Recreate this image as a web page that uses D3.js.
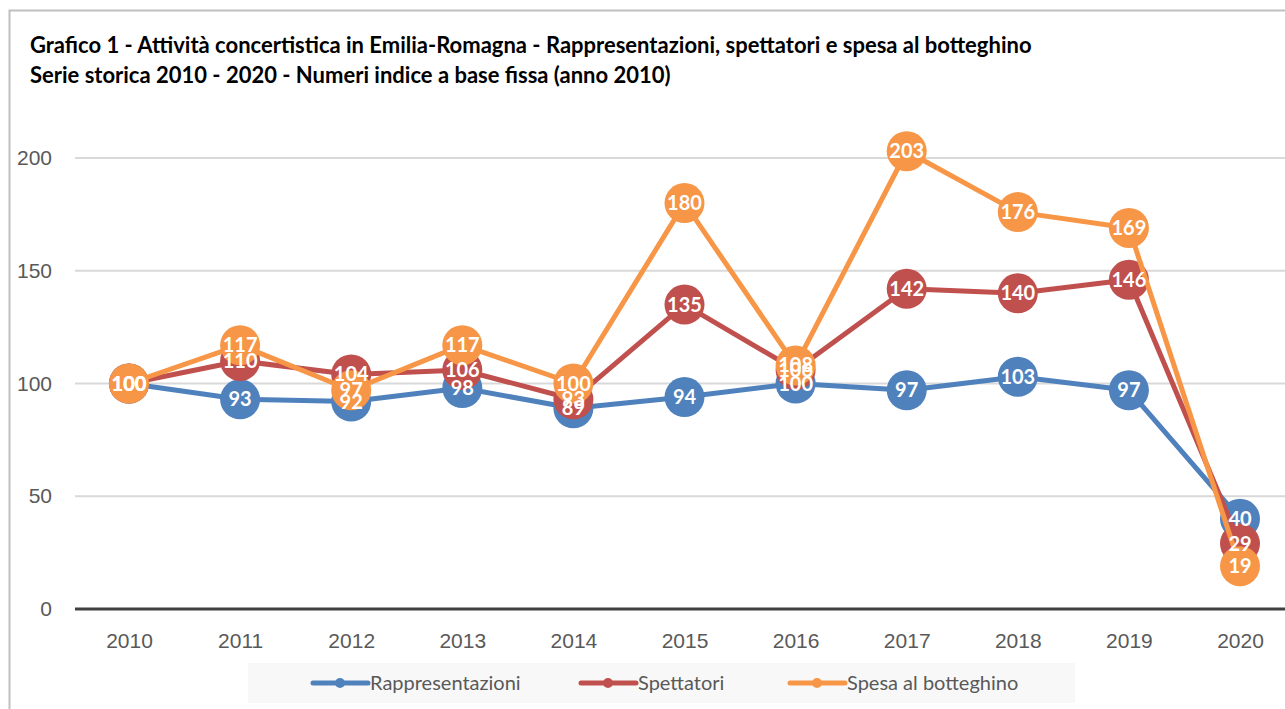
<!DOCTYPE html>
<html lang="it">
<head>
<meta charset="utf-8">
<title>Grafico 1 - Attività concertistica in Emilia-Romagna</title>
<script src="https://cdn.jsdelivr.net/npm/d3@7"></script>
<style>
  body { margin: 0; background: #fff; }
  svg { display: block; font-family: Lato, "Open Sans", sans-serif; }
  .tick text { fill: #595959; font-size: 21px; }
  .lbl { fill: #fff; font-size: 20px; font-weight: bold; }
</style>
</head>
<body>
<div id="chart"></div>
<script>
var years = ["2010","2011","2012","2013","2014","2015","2016","2017","2018","2019","2020"]
var rappresentazioni = [100, 93, 92, 98, 89, 94, 100, 97, 103, 97, 40]
var spettatori = [100, 110, 104, 106, 93, 135, 106, 142, 140, 146, 29]
var spesa = [100, 117, 97, 117, 100, 180, 108, 203, 176, 169, 19]
var yTicks = [0, 50, 100, 150, 200]
var seriesNames = ["Rappresentazioni", "Spettatori", "Spesa al botteghino"]
var seriesColors = ["#4f81bd", "#c0504d", "#f79646"]

var W = 1285, H = 709
var svg = d3.select("#chart").append("svg").attr("width", W).attr("height", H)

// frame
svg.append("path").attr("d", "M9.5," + H + "V10.5H" + W)
  .attr("fill", "none").attr("stroke", "#bfbfbf").attr("stroke-width", 2)

svg.append("text").attr("x", 30).attr("y", 53)
  .attr("font-size", 22).attr("font-weight", "bold").attr("fill", "#000")
  .text("Grafico 1 - Attività concertistica in Emilia-Romagna - Rappresentazioni, spettatori e spesa al botteghino")
svg.append("text").attr("x", 30).attr("y", 83)
  .attr("font-size", 22).attr("font-weight", "bold").attr("fill", "#000")
  .text("Serie storica 2010 - 2020 - Numeri indice a base fissa (anno 2010)")

var x = d3.scalePoint().domain(years).range([129, 1240])
var y = d3.scaleLinear().domain([0, 200]).range([609, 158])

// grid
svg.append("g").selectAll("line").data(yTicks.filter(function(d){ return d > 0 }))
  .enter().append("line")
  .attr("x1", 75).attr("x2", W).attr("y1", function(d){ return y(d) }).attr("y2", function(d){ return y(d) })
  .attr("stroke", "#d9d9d9").attr("stroke-width", 2)

var yAxis = svg.append("g").attr("transform", "translate(56,0)")
  .call(d3.axisLeft(y).tickValues(yTicks).tickSize(0).tickPadding(4))
yAxis.select(".domain").remove()

var xAxis = svg.append("g").attr("transform", "translate(0,609)")
  .call(d3.axisBottom(x).tickSize(0).tickPadding(24))
xAxis.select(".domain").remove()

svg.append("line").attr("x1", 75).attr("x2", W).attr("y1", 609).attr("y2", 609)
  .attr("stroke", "#404040").attr("stroke-width", 3)

var series = [rappresentazioni, spettatori, spesa]
var line = d3.line().x(function(d, i){ return x(years[i]) }).y(function(d){ return y(d) })

series.forEach(function(s, k) {
  var g = svg.append("g")
  g.append("path").attr("d", line(s)).attr("fill", "none")
    .attr("stroke", seriesColors[k]).attr("stroke-width", 5).attr("stroke-linejoin", "round")
  g.selectAll("circle").data(s).enter().append("circle")
    .attr("cx", function(d, i){ return x(years[i]) })
    .attr("cy", function(d){ return y(d) })
    .attr("r", 20).attr("fill", seriesColors[k])
})

series.forEach(function(s, k) {
  svg.append("g").selectAll("text").data(s).enter().append("text")
    .attr("class", "lbl").attr("text-anchor", "middle")
    .attr("x", function(d, i){ return x(years[i]) })
    .attr("y", function(d){ return y(d) + 7 })
    .text(function(d){ return d })
})

// legend
var leg = svg.append("g")
leg.append("rect").attr("x", 248).attr("y", 663).attr("width", 827).attr("height", 40).attr("fill", "#f8f8f8")
var legX = [313, 581, 790]
seriesNames.forEach(function(n, k) {
  leg.append("line").attr("x1", legX[k]).attr("x2", legX[k] + 55).attr("y1", 683).attr("y2", 683)
    .attr("stroke", seriesColors[k]).attr("stroke-width", 5).attr("stroke-linecap", "round")
  leg.append("circle").attr("cx", legX[k] + 27).attr("cy", 683).attr("r", 5).attr("fill", seriesColors[k])
  leg.append("text").attr("x", legX[k] + 57).attr("y", 690).attr("font-size", 20).attr("fill", "#595959").text(n)
})
</script>
</body>
</html>
